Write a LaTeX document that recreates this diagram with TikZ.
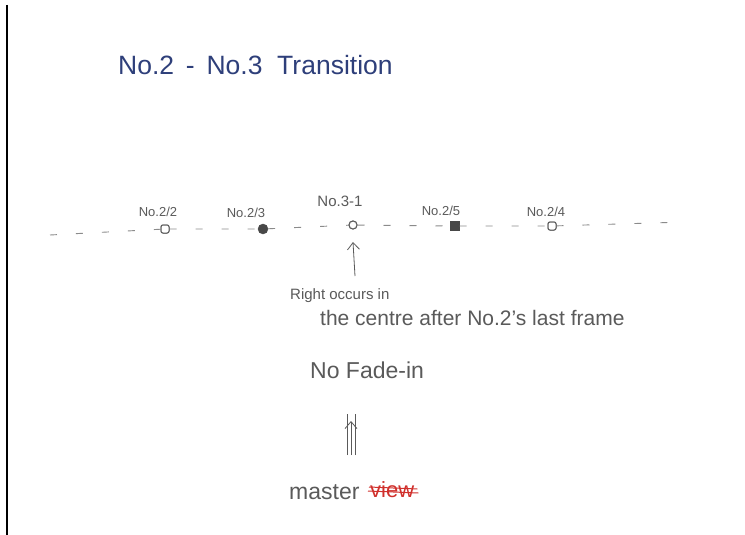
\documentclass[tikz,border=0pt]{standalone}
\usepackage{fontspec}
\setmainfont{Liberation Sans}
\usetikzlibrary{arrows.meta}
\definecolor{pencil}{HTML}{5A5A5A}
\definecolor{ink}{HTML}{2E3F7A}
\definecolor{redink}{HTML}{D0302C}
\begin{document}
\begin{tikzpicture}[x=1pt,y=-1pt,
  pen/.style={text=pencil,inner sep=0pt,font=\fontsize{20}{24}\selectfont},
  lab/.style={text=pencil,inner sep=0pt,font=\fontsize{13}{15}\selectfont},
  openmark/.style={draw=pencil,fill=white,line width=1pt,minimum size=8pt,inner sep=0pt},
  fillmark/.style={draw=pencil!80!black,fill=pencil!80!black,minimum size=9pt,inner sep=0pt},
  dashline/.style={draw=pencil!70,line width=0.9pt,dash pattern=on 7pt off 19pt},
  barb/.style={draw=pencil,line width=0.8pt,-{Straight Barb[length=7pt,width=12pt]}}]
\useasboundingbox (0,0) rectangle (745,535);
\fill[white] (0,0) rectangle (745,535);
% left edge line
\coordinate (et) at (7,5);
\coordinate (eb) at (7,535);
\draw[black,line width=1.6pt] (et) -- (eb);
% title
\node[text=ink,inner sep=0pt,anchor=west,font=\fontsize{26.5}{31}\selectfont] (title) at (118,65) {No.2 \,-\, No.3 \;Transition};
% time line
\coordinate (ls) at (50,235);
\coordinate (le) at (685,222);
\node[openmark,rectangle,rounded corners=2pt] (n22) at (165,229) {};
\node[fillmark,circle,minimum size=10pt] (n23) at (263,229) {};
\node[openmark,circle,minimum size=8pt] (n31) at (353,225) {};
\node[fillmark,rectangle] (n25) at (455,226) {};
\node[openmark,rectangle,rounded corners=2pt] (n24) at (552,226) {};
\path[dashline] (ls) -- (n22) -- (n23) -- (n31) -- (n25) -- (n24) -- (le);
\node[openmark,rectangle,rounded corners=2pt] at (n22) {};
\node[openmark,circle,minimum size=8pt] at (n31) {};
\node[openmark,rectangle,rounded corners=2pt] at (n24) {};
% labels
\node[lab] (l22) at (158,212) {No.2/2};
\node[lab] (l23) at (246,213) {No.2/3};
\node[lab,font=\fontsize{15}{18}\selectfont] (l31) at (340,201) {No.3-1};
\node[lab] (l25) at (441,211) {No.2/5};
\node[lab] (l24) at (546,212) {No.2/4};
% arrow to centre
\coordinate (abot) at (355,276);
\draw[barb] (abot) -- (n31.south |- 0,242);
% notes
\node[pen,anchor=west,font=\fontsize{15}{18}\selectfont] (note1) at (290,296) {Right occurs in};
\node[pen,anchor=west,font=\fontsize{21}{25}\selectfont] (note2) at (320,318) {the centre after No.2's last frame};
\node[pen,anchor=west,font=\fontsize{23}{27}\selectfont] (note3) at (310,370) {No Fade-in};
% triple arrow
\coordinate (mtop) at (351,421);
\coordinate (mbot) at (351,455);
\draw[barb] (mbot) -- (mtop);
\draw[pencil,line width=0.8pt] ([xshift=-4pt]mbot) -- ([xshift=-4pt,yshift=7pt]mtop);
\draw[pencil,line width=0.8pt] ([xshift=4pt]mbot) -- ([xshift=4pt,yshift=7pt]mtop);
% master view
\node[pen,anchor=west,font=\fontsize{23}{27}\selectfont] (master) at (289,492) {master};
\node[inner sep=0pt,anchor=west,text=redink,font=\fontsize{22}{26}\selectfont] (view) at (370,490) {view};
\draw[redink,line width=1pt] ([xshift=-2pt,yshift=-1pt]view.west) -- ([xshift=4pt,yshift=-3pt]view.east);
\draw[redink,line width=1pt] ([xshift=-1pt,yshift=3pt]view.west) -- ([xshift=3pt,yshift=1pt]view.east);
\end{tikzpicture}
\end{document}
